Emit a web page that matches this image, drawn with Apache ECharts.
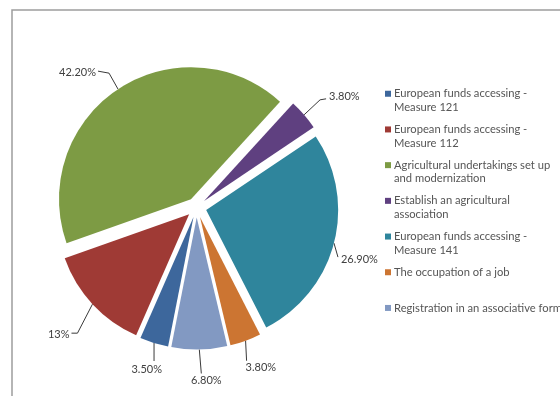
<!DOCTYPE html>
<html>
<head>
<meta charset="utf-8">
<script src="https://cdn.jsdelivr.net/npm/echarts@6/dist/echarts.min.js"></script>
<style>
  html, body { margin: 0; padding: 0; background: #ffffff; }
  #chart { width: 560px; height: 396px; }
</style>
</head>
<body>
<div id="chart"></div>
<script>
// Categories (line breaks mark where the legend entry wraps)
const categories = [
  'European funds accessing -\nMeasure 121',
  'European funds accessing -\nMeasure 112',
  'Agricultural undertakings set up\nand modernization',
  'Establish an agricultural\nassociation',
  'European funds accessing -\nMeasure 141',
  'The occupation of a job',
  'Registration in an associative form'
];
// Share of each category, in percent
const shares = [3.5, 13, 42.2, 3.8, 26.9, 3.8, 6.8];
const colors = ['#3D679C', '#9F3A35', '#7D9B44', '#5F4080', '#2F859C', '#CC7532', '#8299C2'];

// Pie geometry
const pieCenter = [196.5, 207.5];
const pieRadius = 132;
const firstSliceStart = 191.1;   // degrees, clockwise from 12 o'clock
const explode = 10;              // distance each slice is pulled out

// Leader line and text placement for each slice label, relative to the
// point where the line leaves the slice's rim.
const leaders = [
  { elbow: [0, 18],   end: [0, 18],    text: [8, 26],    align: 'right'  },
  { elbow: [-15, 29], end: [-21, 29],  text: [-23, 30],  align: 'right'  },
  { elbow: [-9, -16], end: [-20, -18], text: [-22, -17], align: 'right'  },
  { elbow: [16, -15], end: [22, -16],  text: [25, -18],  align: 'left'   },
  { elbow: [4, 14],   end: [4, 14],    text: [7, 16],    align: 'left'   },
  { elbow: [1, 20],   end: [1, 20],    text: [0, 27],    align: 'left'   },
  { elbow: [2, 24],   end: [2, 24],    text: [7, 31],    align: 'center' }
];

const rich = { g: { width: 3, lineHeight: 13.5 }, ind: { width: 9, lineHeight: 13.5 } };
colors.forEach(function (c, i) {
  rich['m' + i] = { width: 6, height: 6, backgroundColor: c, verticalAlign: 'middle', lineHeight: 13.5 };
});

function pctText(v) {
  return (Number.isInteger(v) ? String(v) : v.toFixed(2)) + '%';
}

function labelLayout(params) {
  const pts = params.labelLinePoints;
  const cfg = leaders[params.dataIndex];
  if (!pts || !cfg) { return {}; }
  const x0 = pts[0][0], y0 = pts[0][1];
  return {
    x: x0 + cfg.text[0],
    y: y0 + cfg.text[1],
    align: cfg.align,
    verticalAlign: 'middle',
    labelLinePoints: [
      [x0, y0],
      [x0 + cfg.elbow[0], y0 + cfg.elbow[1]],
      [x0 + cfg.end[0], y0 + cfg.end[1]]
    ]
  };
}

// One pie layer per slice: every layer lays out the whole data set, shows
// only its own slice, and is shifted outward along that slice's mid angle.
const total = shares.reduce(function (a, b) { return a + b; }, 0);
let cumulative = 0;
const pieLayers = shares.map(function (v, i) {
  const mid = (firstSliceStart + (cumulative + v / 2) / total * 360) * Math.PI / 180;
  cumulative += v;
  return {
    type: 'pie',
    silent: true,
    center: [pieCenter[0] + explode * Math.sin(mid), pieCenter[1] - explode * Math.cos(mid)],
    radius: pieRadius,
    startAngle: 90 - firstSliceStart,
    clockwise: true,
    avoidLabelOverlap: false,
    emphasis: { disabled: true },
    label: {
      position: 'outside',
      fontFamily: 'Lato',
      fontSize: 11,
      color: '#404040',
      formatter: function (p) { return pctText(p.value); }
    },
    labelLine: {
      length: 10,
      length2: 5,
      lineStyle: { color: '#3a3a3a', width: 1 }
    },
    labelLayout: labelLayout,
    data: categories.map(function (name, j) {
      const own = j === i;
      return {
        name: name,
        value: shares[j],
        itemStyle: { color: own ? colors[j] : 'rgba(0,0,0,0)', borderWidth: 0 },
        label: { show: own },
        labelLine: { show: own }
      };
    })
  };
});

const chart = echarts.init(document.getElementById('chart'), null, { renderer: 'canvas' });

chart.setOption({
  animation: false,
  backgroundColor: '#ffffff',
  graphic: [{
    type: 'rect',
    shape: { x: 12, y: 10, width: 620, height: 440 },
    style: { fill: 'none', stroke: '#9d9d9d', lineWidth: 1.5 },
    silent: true,
    z: -10
  }],
  legend: {
    orient: 'vertical',
    left: 380,
    top: 87,
    padding: 0,
    itemGap: 8.7,
    itemWidth: 0,
    itemHeight: 0,
    icon: 'none',
    selectedMode: false,
    data: categories,
    formatter: function (name) {
      const i = categories.indexOf(name);
      const lines = name.split('\n');
      return '{m' + i + '|}{g|}' + lines[0] + '\n{ind|}' + (lines[1] || ' ');
    },
    textStyle: {
      fontFamily: 'Lato',
      fontSize: 11.2,
      color: '#555555',
      lineHeight: 13.5,
      rich: rich
    }
  },
  series: pieLayers
});
</script>
</body>
</html>
